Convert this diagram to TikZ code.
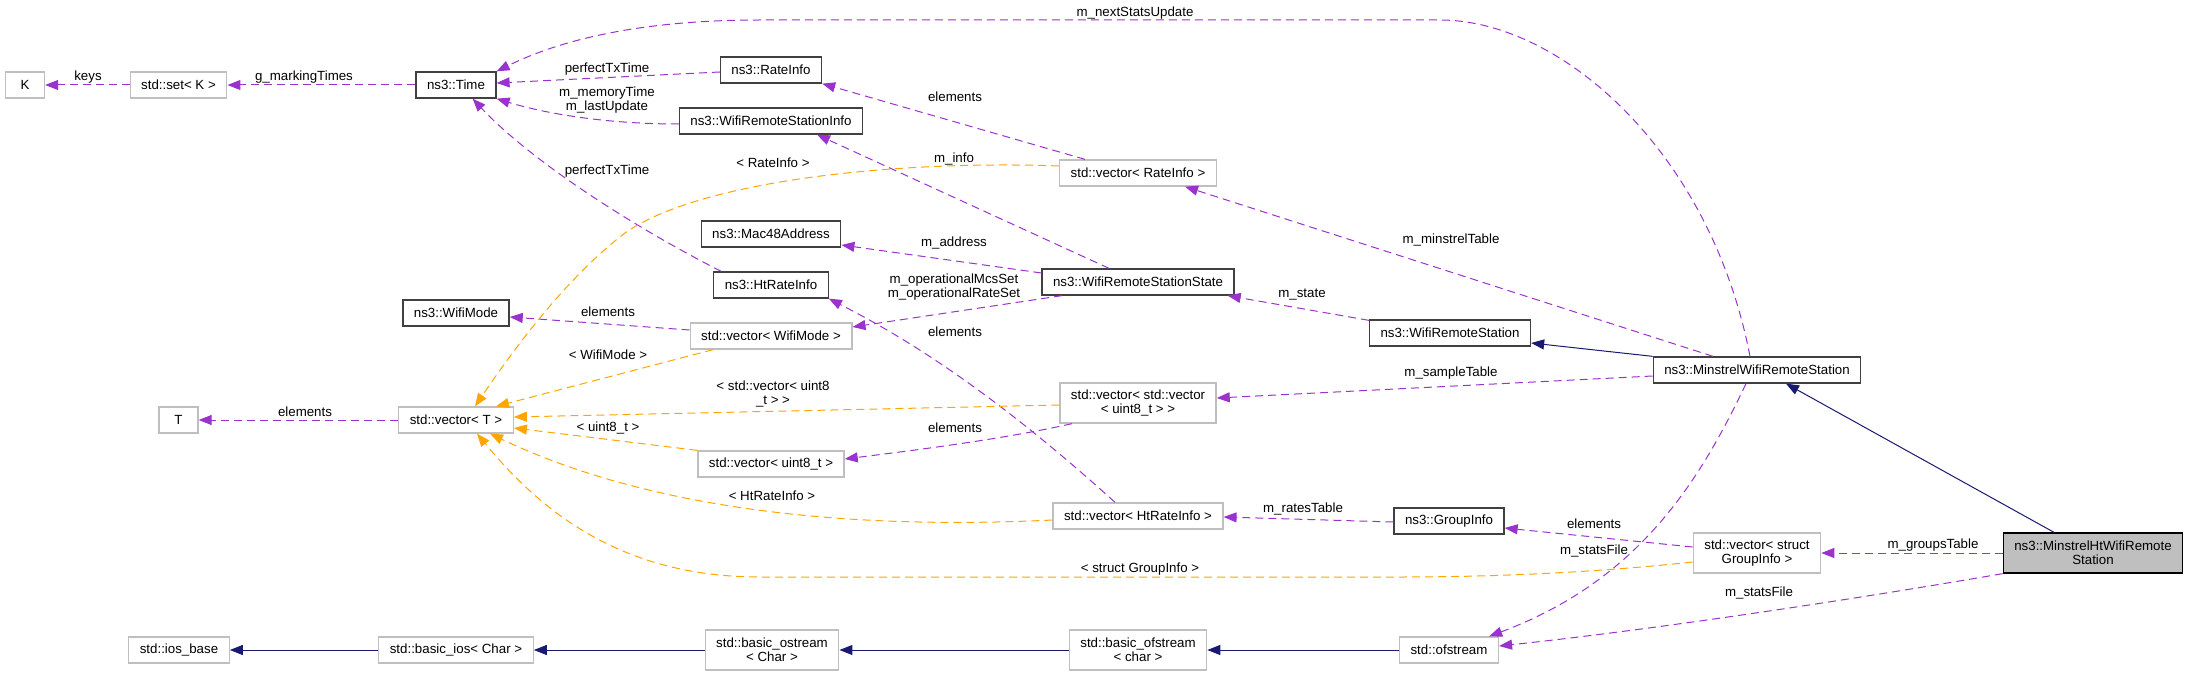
\documentclass[tikz,border=0pt]{standalone}
\usepackage{fontspec}
\setmainfont{Liberation Sans}
\usepackage{tikz}
\usetikzlibrary{arrows.meta}
\definecolor{usecol}{HTML}{9A32CD}
\definecolor{tmplcol}{HTML}{FFA500}
\definecolor{inhcol}{HTML}{191970}
\definecolor{boxgray}{HTML}{BFBFBF}
\tikzset{
    classbox/.style   = {draw=black!75, line width=1.3pt, rectangle, inner xsep=11pt, inner ysep=2pt, minimum width=39pt, minimum height=26pt, font=\fontsize{13.3}{14.3}\selectfont, align=center},
    stdbox/.style     = {classbox, draw=boxgray},
    mainbox/.style    = {classbox, draw=black, fill=boxgray},
    twoline/.style    = {minimum height=40pt},
    useedge/.style    = {usecol, line width=1pt, dash pattern=on 8pt off 5pt, -{Triangle[length=13pt,width=10pt]}},
    tmpledge/.style   = {useedge, tmplcol},
    inhedge/.style    = {inhcol, line width=1pt, -{Triangle[length=13pt,width=10pt]}},
    elabel/.style     = {font=\fontsize{13.3}{14.3}\selectfont, align=center, inner sep=0pt},
}

\begin{document}
\begin{tikzpicture}[x=1pt,y=-1pt]
    \useasboundingbox (0,0) rectangle (2189,676);

    % classes
    \node[stdbox] (K) at (25,85) {K};
    \node[stdbox] (setK) at (178.5,85) {std::set< K >};
    \node[classbox] (time) at (456,85) {ns3::Time};
    \node[classbox] (rateinfo) at (771,70) {ns3::RateInfo};
    \node[classbox] (wrsinfo) at (771,121) {ns3::WifiRemoteStationInfo};
    \node[stdbox] (vecrate) at (1138,173) {std::vector< RateInfo >};
    \node[classbox] (mac) at (771,234) {ns3::Mac48Address};
    \node[classbox] (htrate) at (771,285) {ns3::HtRateInfo};
    \node[classbox] (wrsstate) at (1138,282) {ns3::WifiRemoteStationState};
    \node[classbox] (wifimode) at (456,313) {ns3::WifiMode};
    \node[stdbox] (vecmode) at (771,336) {std::vector< WifiMode >};
    \node[classbox] (wrs) at (1450,333) {ns3::WifiRemoteStation};
    \node[classbox] (minstrel) at (1757,370) {ns3::MinstrelWifiRemoteStation};
    \node[stdbox, twoline] (vecvec) at (1138,403) {std::vector< std::vector\\< uint8\_t > >};
    \node[stdbox] (T) at (178.5,420) {T};
    \node[stdbox] (vecT) at (456,420) {std::vector< T >};
    \node[stdbox] (vecu8) at (771,464) {std::vector< uint8\_t >};
    \node[stdbox] (vecht) at (1138,516) {std::vector< HtRateInfo >};
    \node[classbox] (groupinfo) at (1449,521) {ns3::GroupInfo};
    \node[stdbox, twoline] (vecgrp) at (1757,553) {std::vector< struct\\GroupInfo >};
    \node[mainbox, twoline] (mhtwrs) at (2093,553) {ns3::MinstrelHtWifiRemote\\Station};
    \node[stdbox] (iosbase) at (179,650) {std::ios\_base};
    \node[stdbox] (basicios) at (456,650) {std::basic\_ios< Char >};
    \node[stdbox, twoline] (ostream) at (772,650) {std::basic\_ostream\\< Char >};
    \node[stdbox, twoline] (bofstream) at (1138,650) {std::basic\_ofstream\\< char >};
    \node[stdbox] (ofstream) at (1449,650) {std::ofstream};

    % usage
    \draw[useedge] (setK) -- (K);
    \draw[useedge] (time) -- (setK);
    \draw[useedge] ([yshift=-2pt]rateinfo.west) -- ([yshift=2pt]time.east);
    \draw[useedge] ([yshift=-3pt]wrsinfo.west) .. controls (600,124) and (540,112) .. (time.south east);
    \draw[useedge] ([xshift=8pt]htrate.north west) .. controls (630,225) and (530,160) .. ([xshift=-24pt]time.south east);
    \draw[useedge] ([xshift=-7pt]minstrel.north) .. controls (1710,150) and (1560,20) .. (1440,20) -- (760,20) .. controls (640,20) and (560,40) .. (time.north east);
    \draw[useedge] ([xshift=-53pt]vecrate.north) -- (rateinfo.south east);
    \draw[useedge] ([xshift=-29pt]wrsstate.north) -- ([xshift=46pt]wrsinfo.south);
    \draw[useedge] ([yshift=9pt]wrsstate.west) -- ([yshift=-11pt]mac.east);
    \draw[useedge] ([xshift=-76pt]wrsstate.south) -- ([yshift=9pt]vecmode.east);
    \draw[useedge] ([yshift=6pt]vecmode.west) -- ([yshift=-4pt]wifimode.east);
    \draw[useedge] (vecT) -- (T);
    \draw[useedge] ([xshift=-23pt]vecht.north) .. controls (980,380) and (890,330) .. (htrate.south east);
    \draw[useedge] ([xshift=-66pt]vecvec.south) .. controls (1000,440) and (900,452) .. ([yshift=5pt]vecu8.east);
    \draw[useedge] ([yshift=-1pt]wrs.north west) -- ([xshift=-7pt]wrsstate.south east);
    \draw[useedge] ([xshift=-44pt]minstrel.north) -- ([xshift=47pt]vecrate.south);
    \draw[useedge] ([yshift=-6pt]minstrel.west) -- ([yshift=5pt]vecvec.east);
    \draw[useedge] ([xshift=-11pt]minstrel.south) .. controls (1700,480) and (1640,580) .. ([xshift=-10pt]ofstream.north east);
    \draw[useedge] ([yshift=-1pt]groupinfo.west) -- ([yshift=-1pt]vecht.east);
    \draw[useedge] ([yshift=6pt]vecgrp.west) -- ([yshift=-7pt]groupinfo.east);
    \draw[useedge] (mhtwrs) -- (vecgrp);
    \draw[useedge] (mhtwrs.south west) .. controls (1850,600) and (1650,630) .. ([yshift=4pt]ofstream.east);

    % template instances
    \draw[tmpledge] ([yshift=7pt]vecrate.west) .. controls (900,160) and (700,180) .. (625,233) .. controls (570,275) and (520,340) .. ([xshift=19pt]vecT.north);
    \draw[tmpledge] ([xshift=-58pt]vecmode.south) -- ([xshift=40pt]vecT.north);
    \draw[tmpledge] ([yshift=-2pt]vecvec.west) -- ([yshift=3pt]vecT.east);
    \draw[tmpledge] (vecu8.north west) -- ([yshift=-8pt]vecT.east);
    \draw[tmpledge] ([yshift=-4pt]vecht.west) .. controls (850,530) and (650,510) .. ([xshift=34pt]vecT.south);
    \draw[tmpledge] ([yshift=-9pt]vecgrp.west) .. controls (1600,572) and (1500,577) .. (1400,577) -- (760,577) .. controls (620,577) and (540,510) .. ([xshift=21pt]vecT.south);

    % inheritance
    \draw[inhedge] (minstrel.north west) -- ([yshift=-10pt]wrs.east);
    \draw[inhedge] ([xshift=-39pt]mhtwrs.north) -- ([xshift=29pt]minstrel.south);
    \draw[inhedge] (basicios) -- (iosbase);
    \draw[inhedge] (ostream) -- (basicios);
    \draw[inhedge] (bofstream) -- (ostream);
    \draw[inhedge] (ofstream) -- (bofstream);

    % labels
    \node[elabel] (lkeys) at (88,77) {keys};
    \node[elabel] (lmarking) at (304,77) {g\_markingTimes};
    \node[elabel] (lperfect) at (607,69) {perfectTxTime};
    \node[elabel] (lmemory) at (607,100) {m\_memoryTime\\m\_lastUpdate};
    \node[elabel] (lhtperfect) at (607,171) {perfectTxTime};
    \node[elabel] (lnext) at (1135,13) {m\_nextStatsUpdate};
    \node[elabel] (lrateel) at (955,97) {elements};
    \node[elabel] (lratet) at (773,163) {< RateInfo >};
    \node[elabel] (linfo) at (954,159) {m\_info};
    \node[elabel] (laddress) at (954,243) {m\_address};
    \node[elabel] (lopset) at (954,287) {m\_operationalMcsSet\\m\_operationalRateSet};
    \node[elabel] (lhtel) at (955,332) {elements};
    \node[elabel] (lmodeel) at (608,312) {elements};
    \node[elabel] (lmodet) at (608,355) {< WifiMode >};
    \node[elabel] (lvecvect) at (773,394) {< std::vector< uint8\\\_t > >};
    \node[elabel] (lu8t) at (608,428) {< uint8\_t >};
    \node[elabel] (lu8el) at (955,428) {elements};
    \node[elabel] (lTel) at (305,412) {elements};
    \node[elabel] (lhtt) at (772,496) {< HtRateInfo >};
    \node[elabel] (lrates) at (1303,509) {m\_ratesTable};
    \node[elabel] (lgrpt) at (1140,569) {< struct GroupInfo >};
    \node[elabel] (lminstrel) at (1451,240) {m\_minstrelTable};
    \node[elabel] (lstate) at (1302,295) {m\_state};
    \node[elabel] (lsample) at (1451,373) {m\_sampleTable};
    \node[elabel] (lgrpel) at (1594,524) {elements};
    \node[elabel] (lstats) at (1594,551) {m\_statsFile};
    \node[elabel] (lgroups) at (1933,545) {m\_groupsTable};
    \node[elabel] (lhtstats) at (1759,593) {m\_statsFile};
\end{tikzpicture}
\end{document}
